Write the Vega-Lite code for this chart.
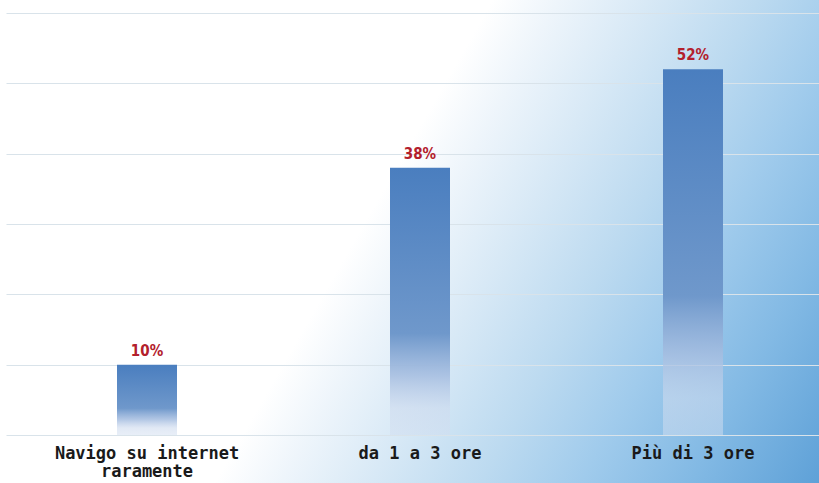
{
  "$schema": "https://vega.github.io/schema/vega-lite/v6.json",
  "width": 828,
  "height": 483,
  "autosize": {"type": "none"},
  "padding": {"left": 6, "top": 0, "right": 0, "bottom": 0},
  "background": "#ffffff",
  "config": {
    "view": {
      "stroke": null,
      "fill": {
        "gradient": "linear",
        "x1": 0, "y1": 0, "x2": 1.2007, "y2": 0.4029,
        "stops": [
          {"offset": 0, "color": "#ffffff"},
          {"offset": 0.44, "color": "#ffffff"},
          {"offset": 0.5, "color": "#eef5fb"},
          {"offset": 0.58, "color": "#d8e9f6"},
          {"offset": 0.68, "color": "#bcdaf0"},
          {"offset": 0.77, "color": "#a0cbec"},
          {"offset": 0.87, "color": "#82b9e4"},
          {"offset": 1, "color": "#5a9ed6"}
        ]
      }
    }
  },
  "data": {
    "values": [
      {"risposta": "Navigo su internet raramente", "quota": 0.10},
      {"risposta": "da 1 a 3 ore", "quota": 0.38},
      {"risposta": "Più di 3 ore", "quota": 0.52}
    ]
  },
  "encoding": {
    "x": {
      "field": "risposta",
      "type": "nominal",
      "sort": null,
      "scale": {"paddingInner": 0, "paddingOuter": 0.0165},
      "axis": {
        "orient": "bottom",
        "offset": -48,
        "title": null,
        "domain": false,
        "ticks": false,
        "labelAngle": 0,
        "labelPadding": 10,
        "labelLimit": 0,
        "labelFont": "DejaVu Sans Mono",
        "labelFontWeight": "bold",
        "labelFontSize": 17,
        "labelColor": "#1a1a1a",
        "labelLineHeight": 18,
        "labelExpr": "datum.value == 'Navigo su internet raramente' ? ['Navigo su internet', 'raramente'] : datum.value"
      }
    },
    "y": {
      "field": "quota",
      "type": "quantitative",
      "scale": {"domain": [-0.06825, 0.61848], "nice": false, "zero": false},
      "axis": {
        "title": null,
        "labels": false,
        "ticks": false,
        "domain": false,
        "values": [0, 0.1, 0.2, 0.3, 0.4, 0.5, 0.6],
        "gridColor": "#d9e3ea",
        "gridWidth": 1.2
      }
    }
  },
  "layer": [
    {
      "mark": {
        "type": "bar",
        "width": 60,
        "color": {
          "gradient": "linear",
          "x1": 0, "y1": 0, "x2": 0, "y2": 1,
          "stops": [
            {"offset": 0, "color": "#4a7ebf"},
            {"offset": 0.62, "color": "#6f98cb"},
            {"offset": 0.78, "color": "rgba(165,189,224,0.85)"},
            {"offset": 0.9, "color": "rgba(205,218,238,0.6)"},
            {"offset": 1, "color": "rgba(210,222,240,0.5)"}
          ]
        }
      },
      "encoding": {
        "y2": {"datum": 0}
      }
    },
    {
      "mark": {
        "type": "text",
        "baseline": "bottom",
        "dy": -6,
        "font": "DejaVu Sans Condensed",
        "fontWeight": "bold",
        "fontSize": 15,
        "color": "#b3202c"
      },
      "encoding": {
        "text": {"field": "quota", "type": "quantitative", "format": ".0%"}
      }
    }
  ]
}
